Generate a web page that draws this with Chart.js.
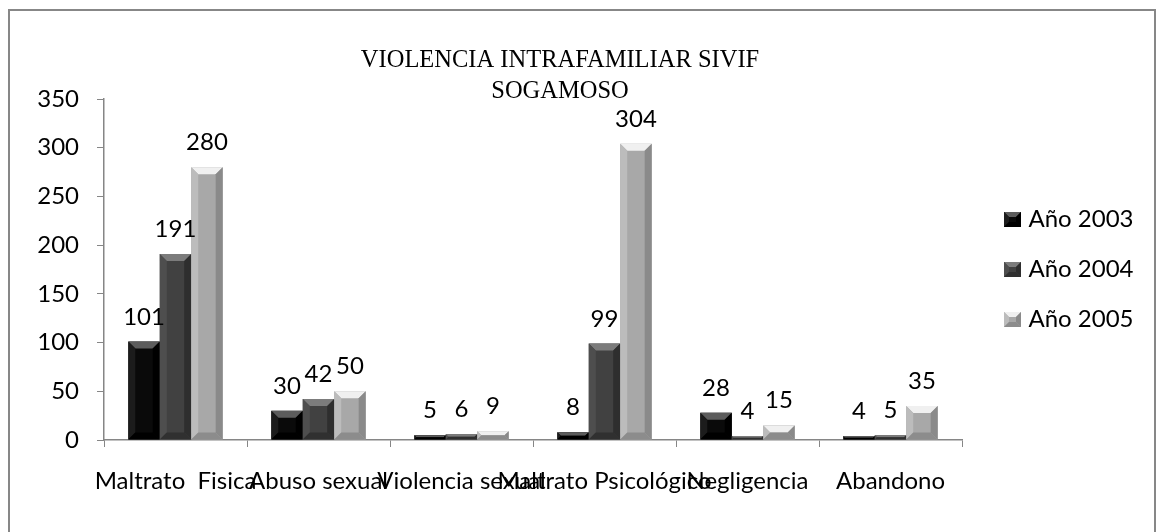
<!DOCTYPE html>
<html>
<head>
<meta charset="utf-8">
<script src="https://cdn.jsdelivr.net/npm/chart.js@4/dist/chart.umd.min.js"></script>
<style>
  html, body { margin: 0; padding: 0; background: #fff; }
  #wrap { position: relative; width: 1157px; height: 532px; }
</style>
</head>
<body>
<div id="wrap"><canvas id="myChart"></canvas></div>
<script>
// data
const categories = ['Maltrato  Fisica', 'Abuso sexual', 'Violencia sexual', 'Maltrato Psicológico', 'Negligencia', 'Abandono'];
const seriesNames = ['Año 2003', 'Año 2004', 'Año 2005'];
const year2003 = [101, 30, 5, 8, 28, 4];
const year2004 = [191, 42, 6, 99, 4, 5];
const year2005 = [280, 50, 9, 304, 15, 35];
const yTicks = [0, 50, 100, 150, 200, 250, 300, 350];
const titleLines = ['VIOLENCIA INTRAFAMILIAR SIVIF', 'SOGAMOSO'];

const barColors = ['#0a0a0a', '#414141', '#a8a8a8'];
// bevel shades: top, left, right, bottom
const bevels = [
  ['#5c5c5c', '#1c1c1c', '#000000', '#000000'],
  ['#7c7c7c', '#4e4e4e', '#2e2e2e', '#303030'],
  ['#f0f0f0', '#bcbcbc', '#8a8a8a', '#8c8c8c']
];
const FONT = 'Lato';

function drawBevel(ctx, L, T, R, B, maxB, i) {
  const b = Math.min(maxB, (B - T) / 2, (R - L) / 2);
  const shade = bevels[i];
  const poly = (pts, col) => {
    ctx.beginPath();
    ctx.moveTo(pts[0][0], pts[0][1]);
    pts.slice(1).forEach(q => ctx.lineTo(q[0], q[1]));
    ctx.closePath();
    ctx.fillStyle = col;
    ctx.fill();
  };
  poly([[L, T], [R, T], [R - b, T + b], [L + b, T + b]], shade[0]);
  poly([[L, T], [L + b, T + b], [L + b, B - b], [L, B]], shade[1]);
  poly([[R, T], [R - b, T + b], [R - b, B - b], [R, B]], shade[2]);
  poly([[L, B], [L + b, B - b], [R - b, B - b], [R, B]], shade[3]);
}

// small bevelled squares for the legend
const legendBoxes = barColors.map((c, i) => {
  const cv = document.createElement('canvas');
  cv.width = 17; cv.height = 15;
  const g = cv.getContext('2d');
  g.fillStyle = c;
  g.fillRect(0, 0, 17, 15);
  drawBevel(g, 0, 0, 17, 15, 5, i);
  g.fillStyle = c;
  g.fillRect(5, 5, 7, 5);
  return cv;
});

// draws the bevelled look on top of each bar, using the bar element's own geometry
const bevelPlugin = {
  id: 'bevel',
  afterDatasetsDraw(chart) {
    const ctx = chart.ctx;
    ctx.save();
    chart.data.datasets.forEach((ds, i) => {
      chart.getDatasetMeta(i).data.forEach(el => {
        const p = el.getProps(['x', 'y', 'base', 'width'], true);
        drawBevel(ctx, p.x - p.width / 2, p.y, p.x + p.width / 2, p.base, 7, i);
      });
    });
    ctx.restore();
  }
};

// value labels above the bars
const valueLabels = {
  id: 'valueLabels',
  afterDatasetsDraw(chart) {
    const ctx = chart.ctx;
    ctx.save();
    ctx.font = '24px ' + FONT;
    ctx.fillStyle = '#000';
    ctx.textAlign = 'center';
    ctx.textBaseline = 'alphabetic';
    chart.data.datasets.forEach((ds, i) => {
      chart.getDatasetMeta(i).data.forEach((el, j) => {
        ctx.fillText(String(ds.data[j]), el.x, el.y - 17);
      });
    });
    ctx.restore();
  }
};

// title sits over the plot, plus the outer frame
const titleAndFrame = {
  id: 'titleAndFrame',
  afterDraw(chart) {
    const ctx = chart.ctx;
    ctx.save();
    ctx.font = '24.5px "Liberation Serif"';
    ctx.fillStyle = '#000';
    ctx.textAlign = 'center';
    ctx.fillText(titleLines[0], 560, 67);
    ctx.fillText(titleLines[1], 560, 98);
    ctx.strokeStyle = '#878787';
    ctx.lineWidth = 2;
    ctx.strokeRect(9, 10, 1146, 600);
    ctx.restore();
  }
};

const ctx = document.getElementById('myChart').getContext('2d');
const myChart = new Chart(ctx, {
  type: 'bar',
  data: {
    labels: categories,
    datasets: [
      { label: seriesNames[0], data: year2003, backgroundColor: barColors[0], pointStyle: legendBoxes[0] },
      { label: seriesNames[1], data: year2004, backgroundColor: barColors[1], pointStyle: legendBoxes[1] },
      { label: seriesNames[2], data: year2005, backgroundColor: barColors[2], pointStyle: legendBoxes[2] }
    ]
  },
  options: {
    responsive: true,
    maintainAspectRatio: false,
    animation: false,
    datasets: {
      bar: { categoryPercentage: 0.66, barPercentage: 1.0 }
    },
    layout: {
      padding: { left: 30, right: 14.5, top: 99, bottom: 30 }
    },
    scales: {
      x: {
        grid: { drawOnChartArea: false, drawTicks: true, tickLength: 7, color: '#868686', offset: true },
        border: { color: '#868686', width: 1.5 },
        ticks: {
          color: '#000', font: { family: FONT, size: 24 },
          maxRotation: 0, minRotation: 0, autoSkip: false, padding: 20
        },
        afterFit: s => { s.height = 62; }
      },
      y: {
        min: 0,
        max: 350,
        afterBuildTicks: s => { s.ticks = yTicks.map(v => ({ value: v })); },
        grid: { drawOnChartArea: false, drawTicks: true, tickLength: 7, color: '#868686' },
        border: { color: '#868686', width: 1.5 },
        ticks: { color: '#000', font: { family: FONT, size: 24 }, padding: 18 },
        afterFit: s => { s.width = 74; }
      },
      // empty axis only keeps a gap between the plot and the legend
      gap: {
        position: 'right',
        display: true,
        grid: { display: false },
        border: { display: false },
        ticks: { display: false },
        afterFit: s => { s.width = 20.5; }
      }
    },
    plugins: {
      title: { display: false },
      tooltip: { enabled: false },
      legend: {
        display: true,
        position: 'right',
        fullSize: false,
        maxWidth: 160,
        labels: {
          color: '#000',
          font: { family: FONT, size: 24 },
          usePointStyle: true,
          boxWidth: 8,
          boxHeight: 15,
          padding: 26
        }
      }
    }
  },
  plugins: [bevelPlugin, valueLabels, titleAndFrame]
});
</script>
</body>
</html>
